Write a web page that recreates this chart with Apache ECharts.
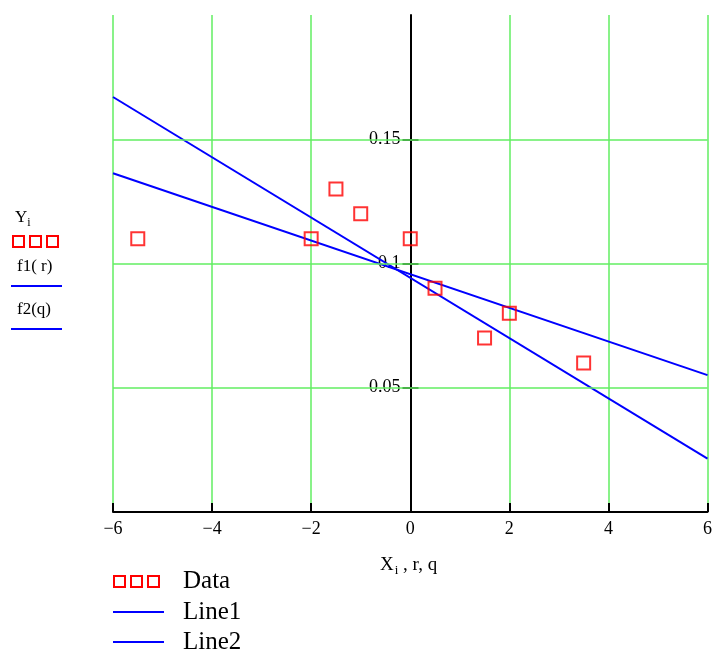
<!DOCTYPE html>
<html>
<head>
<meta charset="utf-8">
<script src="https://cdn.jsdelivr.net/npm/echarts@6/dist/echarts.min.js"></script>
<style>
  html, body { margin: 0; padding: 0; background: #fff; }
  #chart { width: 715px; height: 655px; }
</style>
</head>
<body>
<div id="chart"></div>
<script>
// measured points
var dataX = [-5.5, -2, -1.5, -1, 0, 0.5, 1.5, 2, 3.5];
var dataY = [0.11, 0.11, 0.13, 0.12, 0.11, 0.09, 0.07, 0.08, 0.06];
// fitted lines, end points only
var line1X = [-6, 6];
var line1Y = [0.167, 0.0215];
var line2X = [-6, 6];
var line2Y = [0.1363, 0.0551];
// y ticks / grid lines shown on the plot
var yTicks = [0.05, 0.1, 0.15];

var FONT = '"Liberation Serif", "DejaVu Serif", serif';
var GREEN = '#62ee62';
// y axis sits on x = 0, middle of the plot
var Y_OFFSET = -297.5;

function pairs(xs, ys) {
    return xs.map(function (x, i) { return [x, ys[i]]; });
}

var myChart = echarts.init(document.getElementById('chart'));

var option = {
    animation: false,
    grid: { left: 113, right: 7, top: 15, bottom: 143 },
    xAxis: {
        type: 'value',
        min: -6, max: 6, interval: 2,
        z: 2,
        axisLine: { show: true, onZero: false, lineStyle: { color: '#000', width: 2 } },
        axisTick: { show: true, inside: true, length: 9, lineStyle: { color: '#000', width: 2 } },
        axisLabel: {
            margin: 8,
            fontFamily: FONT, fontSize: 18, color: '#000',
            formatter: function (v) { return String(v).replace('-', '\u2212'); }
        },
        splitLine: { show: true, lineStyle: { color: GREEN, width: 1.5 } }
    },
    yAxis: [{
        type: 'value',
        position: 'left',
        offset: Y_OFFSET,
        min: 0, max: 0.2, interval: 0.05,
        z: 2,
        axisLine: { show: true, onZero: false, lineStyle: { color: '#000', width: 2 } },
        axisTick: { show: true, length: 8, customValues: yTicks, lineStyle: { color: '#000', width: 2 } },
        axisLabel: {
            margin: 10,
            customValues: yTicks,
            fontFamily: FONT, fontSize: 18, color: '#000',
            formatter: function (v) { return String(+v.toFixed(2)); }
        },
        splitLine: { show: false }
    }, {
        type: 'value',
        position: 'left',
        offset: Y_OFFSET,
        min: 0, max: 0.2, interval: 0.05,
        z: 2,
        axisLine: { show: false },
        axisTick: { show: true, inside: true, length: 8, customValues: yTicks, lineStyle: { color: '#000', width: 2 } },
        axisLabel: { show: false },
        splitLine: { show: false }
    }],
    series: [
        {
            name: 'grid',
            type: 'line',
            data: [],
            silent: true,
            z: 1,
            markLine: {
                symbol: 'none',
                silent: true,
                label: { show: false },
                lineStyle: { color: GREEN, width: 1.5, type: 'solid' },
                data: yTicks.map(function (v) { return { yAxis: v }; })
            }
        },
        {
            name: 'Line1',
            type: 'line',
            data: pairs(line1X, line1Y),
            showSymbol: false,
            lineStyle: { color: '#0000ff', width: 2 },
            itemStyle: { color: '#0000ff' },
            z: 3
        },
        {
            name: 'Line2',
            type: 'line',
            data: pairs(line2X, line2Y),
            showSymbol: false,
            lineStyle: { color: '#0000ff', width: 2 },
            itemStyle: { color: '#0000ff' },
            z: 3
        },
        {
            name: 'Data',
            type: 'scatter',
            data: pairs(dataX, dataY),
            symbol: 'rect',
            symbolSize: 13,
            itemStyle: { color: 'rgba(255,255,255,0)', borderColor: '#ff0000', borderWidth: 2 },
            z: 4
        }
    ],
    graphic: [
        // x axis title
        {
            type: 'text', left: 380, top: 556,
            style: {
                text: '{a|X}{s|i}{a| , r, q}',
                rich: {
                    a: { fontFamily: FONT, fontSize: 19, fill: '#000' },
                    s: { fontFamily: FONT, fontSize: 13, fill: '#000', padding: [10, 0, 0, 1] }
                }
            }
        },
        // left side labels
        {
            type: 'text', left: 15, top: 209,
            style: {
                text: '{a|Y}{s|i}',
                rich: {
                    a: { fontFamily: FONT, fontSize: 17, fill: '#000' },
                    s: { fontFamily: FONT, fontSize: 12, fill: '#000', padding: [10, 0, 0, 0] }
                }
            }
        },
        { type: 'rect', shape: { x: 13, y: 236, width: 11, height: 11 }, style: { fill: 'none', stroke: '#ff0000', lineWidth: 2 } },
        { type: 'rect', shape: { x: 30, y: 236, width: 11, height: 11 }, style: { fill: 'none', stroke: '#ff0000', lineWidth: 2 } },
        { type: 'rect', shape: { x: 47, y: 236, width: 11, height: 11 }, style: { fill: 'none', stroke: '#ff0000', lineWidth: 2 } },
        { type: 'text', left: 17, top: 258, style: { text: 'f1( r)', fontFamily: FONT, fontSize: 17, fill: '#000' } },
        { type: 'line', shape: { x1: 11, y1: 286, x2: 62, y2: 286 }, style: { stroke: '#0000ff', lineWidth: 2 } },
        { type: 'text', left: 17, top: 301, style: { text: 'f2(q)', fontFamily: FONT, fontSize: 17, fill: '#000' } },
        { type: 'line', shape: { x1: 11, y1: 329, x2: 62, y2: 329 }, style: { stroke: '#0000ff', lineWidth: 2 } },
        // bottom legend
        { type: 'rect', shape: { x: 114, y: 576, width: 11, height: 11 }, style: { fill: 'none', stroke: '#ff0000', lineWidth: 2 } },
        { type: 'rect', shape: { x: 131, y: 576, width: 11, height: 11 }, style: { fill: 'none', stroke: '#ff0000', lineWidth: 2 } },
        { type: 'rect', shape: { x: 148, y: 576, width: 11, height: 11 }, style: { fill: 'none', stroke: '#ff0000', lineWidth: 2 } },
        { type: 'text', left: 183, top: 569, style: { text: 'Data', fontFamily: FONT, fontSize: 25, fill: '#000' } },
        { type: 'line', shape: { x1: 113, y1: 612, x2: 164, y2: 612 }, style: { stroke: '#0000ff', lineWidth: 2 } },
        { type: 'text', left: 183, top: 600, style: { text: 'Line1', fontFamily: FONT, fontSize: 25, fill: '#000' } },
        { type: 'line', shape: { x1: 113, y1: 642, x2: 164, y2: 642 }, style: { stroke: '#0000ff', lineWidth: 2 } },
        { type: 'text', left: 183, top: 630, style: { text: 'Line2', fontFamily: FONT, fontSize: 25, fill: '#000' } }
    ]
};

myChart.setOption(option);
window.addEventListener('resize', function () { myChart.resize(); });
</script>
</body>
</html>
